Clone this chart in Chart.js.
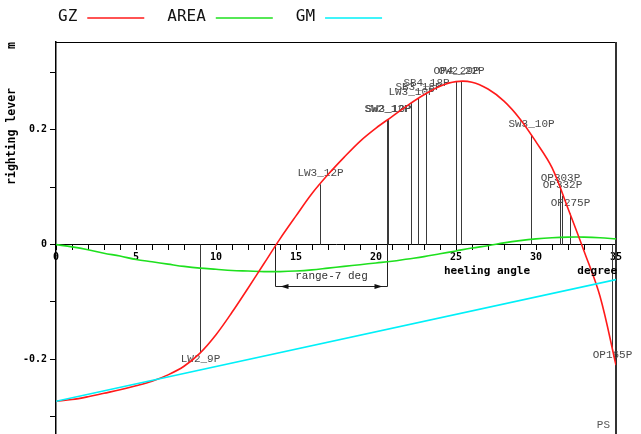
<!DOCTYPE html>
<html>
<head>
<meta charset="utf-8">
<script src="https://cdn.jsdelivr.net/npm/chart.js@4/dist/chart.umd.min.js"></script>
<style>
  html, body { margin: 0; padding: 0; background: #fff; }
  #wrap { width: 641px; height: 434px; }
</style>
</head>
<body>
<div id="wrap"><canvas id="c" width="641" height="434"></canvas></div>
<script>
// Heel angles (deg) at which the curves are sampled
const angles = [0, 1, 2, 3, 4, 5, 6, 7, 8, 9, 10, 11, 12, 13, 14, 15, 16, 17,
                18, 19, 20, 21, 22, 23, 24, 25, 26, 27, 28, 29, 30, 31, 32, 33, 34, 35];

// Righting lever GZ (m)
const gzValues = [-0.273, -0.270, -0.265, -0.259, -0.253, -0.246, -0.238, -0.227, -0.212, -0.189,
                  -0.157, -0.118, -0.076, -0.033, 0.010, 0.050, 0.089, 0.122, 0.152, 0.180,
                  0.203, 0.223, 0.243, 0.261, 0.276, 0.284, 0.283, 0.271, 0.250, 0.219,
                  0.179, 0.134, 0.063, -0.011, -0.090, -0.210];

// Area under the curve
const areaValues = [0.000, -0.004, -0.009, -0.015, -0.020, -0.026, -0.030, -0.034, -0.038, -0.041,
                    -0.043, -0.045, -0.046, -0.047, -0.047, -0.046, -0.044, -0.041, -0.038, -0.035,
                    -0.032, -0.029, -0.025, -0.021, -0.016, -0.011, -0.006, -0.002, 0.003, 0.007,
                    0.010, 0.012, 0.013, 0.013, 0.012, 0.010];

// GM line end points
const gmAngles = [0, 35];
const gmValues = [-0.273, -0.061];

// Axis ticks
const xTicks = [0, 1, 2, 3, 4, 5, 6, 7, 8, 9, 10, 11, 12, 13, 14, 15, 16, 17,
                18, 19, 20, 21, 22, 23, 24, 25, 26, 27, 28, 29, 30, 31, 32, 33, 34, 35];
const xTickLabels = ['0', '5', '10', '15', '20', '25', '30', '35'];
const yTicks = [-0.3, -0.2, -0.1, 0, 0.1, 0.2, 0.3];
const yTickLabels = ['', '-0.2', '', '0', '', '0.2', ''];

// Openings: name, immersion angle and lever at that angle
const markerNames  = ['LW2_9P', 'LW3_12P', 'SW2_12P', 'SW3_10P', 'LW3_10P', 'SB3_18P', 'SB4_18P',
                      'OP4_29P', 'OW2_22P', 'SW3_10P', 'OP303P', 'OP332P', 'OP275P', 'OP165P'];
const markerAngles = [9.0, 16.5, 20.7, 20.75, 22.2, 22.6, 23.1, 25.0, 25.3, 29.7, 31.5, 31.65, 32.1, 34.75];
const markerLevels = [-0.188, 0.105, 0.217, 0.217, 0.247, 0.255, 0.262, 0.284, 0.284, 0.191,
                      0.097, 0.085, 0.054, -0.180];

// Range bracket
const rangeLimits = [13.7, 20.7];
const rangeDepth = -0.073;
const rangeText = 'range-7 deg';

const xTitle = 'heeling angle';
const xUnit = 'degree';
const yTitle = 'righting lever';
const yUnit = 'm';
const cornerText = 'PS';

const MONO = '"DejaVu Sans Mono", "Liberation Mono", monospace';
const THIN = '"Liberation Mono", "DejaVu Sans Mono", monospace';

const decor = {
  id: 'decor',
  beforeDatasetsDraw(chart) {
    const {ctx, chartArea: a, scales: {x, y}} = chart;
    const y0 = y.getPixelForValue(0);
    ctx.save();
    // frame
    ctx.strokeStyle = '#000';
    ctx.lineWidth = 1;
    ctx.beginPath();
    ctx.moveTo(a.left, a.top + 0.5);
    ctx.lineTo(a.right, a.top + 0.5);
    ctx.stroke();
    ctx.strokeStyle = '#333';
    ctx.lineWidth = 2;
    ctx.beginPath();
    ctx.moveTo(a.right, a.top);
    ctx.lineTo(a.right, a.bottom);
    ctx.stroke();

    // opening markers
    ctx.lineWidth = 1;
    ctx.strokeStyle = '#3a3a3a';
    ctx.fillStyle = '#4a4a4a';
    ctx.font = '11px ' + THIN;
    ctx.textAlign = 'center';
    ctx.textBaseline = 'middle';
    markerAngles.forEach((ang, i) => {
      const px = Math.round(x.getPixelForValue(ang)) + 0.5;
      const py = y.getPixelForValue(markerLevels[i]);
      ctx.beginPath();
      ctx.moveTo(px, y0);
      ctx.lineTo(px, py);
      ctx.stroke();
      const ty = markerLevels[i] >= 0 ? py - 11 : py + 7;
      ctx.fillText(markerNames[i], px, ty);
    });

    // range bracket
    const r0 = Math.round(x.getPixelForValue(rangeLimits[0])) + 0.5;
    const r1 = Math.round(x.getPixelForValue(rangeLimits[1])) + 0.5;
    const rb = Math.round(y.getPixelForValue(rangeDepth)) + 0.5;
    ctx.strokeStyle = '#222';
    ctx.beginPath();
    ctx.moveTo(r0, y0); ctx.lineTo(r0, rb); ctx.lineTo(r1, rb); ctx.lineTo(r1, y0);
    ctx.stroke();
    ctx.fillStyle = '#111';
    ctx.beginPath();
    ctx.moveTo(r0 + 5, rb); ctx.lineTo(r0 + 13, rb - 2.5); ctx.lineTo(r0 + 13, rb + 2.5); ctx.closePath();
    ctx.fill();
    ctx.beginPath();
    ctx.moveTo(r1 - 5, rb); ctx.lineTo(r1 - 13, rb - 2.5); ctx.lineTo(r1 - 13, rb + 2.5); ctx.closePath();
    ctx.fill();
    ctx.fillStyle = '#333';
    ctx.font = '11px ' + THIN;
    ctx.fillText(rangeText, (r0 + r1) / 2, rb - 10);
    ctx.restore();
  },
  afterDraw(chart) {
    const {ctx, chartArea: a, scales: {y}} = chart;
    const y0 = y.getPixelForValue(0);
    ctx.save();
    // legend: name followed by a line sample
    ctx.font = '16px ' + MONO;
    ctx.textBaseline = 'middle';
    ctx.textAlign = 'left';
    let lx = a.left + 2;
    chart.data.datasets.forEach(ds => {
      ctx.fillStyle = '#111';
      ctx.fillText(ds.label, lx, 17);
      lx += ctx.measureText(ds.label).width + 10;
      ctx.strokeStyle = ds.borderColor;
      ctx.lineWidth = 1.5;
      ctx.beginPath();
      ctx.moveTo(lx, 18);
      ctx.lineTo(lx + 57, 18);
      ctx.stroke();
      lx += 57 + 23;
    });

    // x axis title
    ctx.fillStyle = '#000';
    ctx.font = 'bold 11px ' + MONO;
    ctx.textAlign = 'right';
    ctx.fillText(xUnit, a.right + 1, y0 + 27);
    ctx.fillText(xTitle, a.right - 86, y0 + 27);

    // y axis title, rotated
    ctx.font = 'bold 11.5px ' + MONO;
    ctx.translate(12, a.top);
    ctx.rotate(-Math.PI / 2);
    ctx.textAlign = 'right';
    ctx.fillText(yUnit, 0, 0);
    ctx.fillText(yTitle, -46, 0);
    ctx.setTransform(1, 0, 0, 1, 0, 0);

    ctx.fillStyle = '#555';
    ctx.font = '11px ' + THIN;
    ctx.textAlign = 'right';
    ctx.fillText(cornerText, a.right - 6, a.bottom - 9);
    ctx.restore();
  }
};

const toPoints = (xs, ys) => xs.map((v, i) => ({x: v, y: ys[i]}));

new Chart(document.getElementById('c'), {
  type: 'line',
  data: {
    datasets: [
      { label: 'GZ', data: toPoints(angles, gzValues), borderColor: '#ff1a1a', borderWidth: 1.6,
        pointRadius: 0, tension: 0.35, order: 2 },
      { label: 'AREA', data: toPoints(angles, areaValues), borderColor: '#1ee01e', borderWidth: 1.6,
        pointRadius: 0, tension: 0.35, order: 3 },
      { label: 'GM', data: toPoints(gmAngles, gmValues), borderColor: '#00f0f8', borderWidth: 1.6,
        pointRadius: 0, tension: 0, order: 1 }
    ]
  },
  options: {
    responsive: false,
    animation: false,
    devicePixelRatio: 1,
    layout: { padding: { left: 0, right: 25, top: 42, bottom: 0 } },
    plugins: { legend: { display: false }, tooltip: { enabled: false } },
    scales: {
      x: {
        type: 'linear',
        min: 0, max: 35,
        position: { y: 0 },
        afterBuildTicks: s => { s.ticks = xTicks.map(v => ({value: v})); },
        afterFit: s => { s.paddingLeft = 0; s.paddingRight = 0; s.paddingTop = 0; s.paddingBottom = 0; },
        grid: { drawOnChartArea: false, drawTicks: true, tickLength: 5, color: '#000', lineWidth: 1 },
        border: { display: true, color: '#000', width: 1 },
        ticks: {
          autoSkip: false, maxRotation: 0, padding: 2, color: '#000',
          font: { family: MONO, size: 10, weight: 'bold' },
          callback: v => xTickLabels.includes(String(v)) ? String(v) : ''
        }
      },
      y: {
        type: 'linear',
        min: -0.33, max: 0.353,
        position: 'left',
        afterBuildTicks: s => { s.ticks = yTicks.map(v => ({value: v})); },
        afterFit: s => { s.width = 56; s.paddingTop = 0; s.paddingBottom = 0; },
        grid: { drawOnChartArea: false, drawTicks: true, tickLength: 6, color: '#000', lineWidth: 1 },
        border: { display: true, color: '#000', width: 1.5 },
        ticks: {
          padding: 3, color: '#000',
          font: { family: MONO, size: 10, weight: 'bold' },
          callback: (v, i) => yTickLabels[i]
        }
      }
    }
  },
  plugins: [decor]
});
</script>
</body>
</html>
